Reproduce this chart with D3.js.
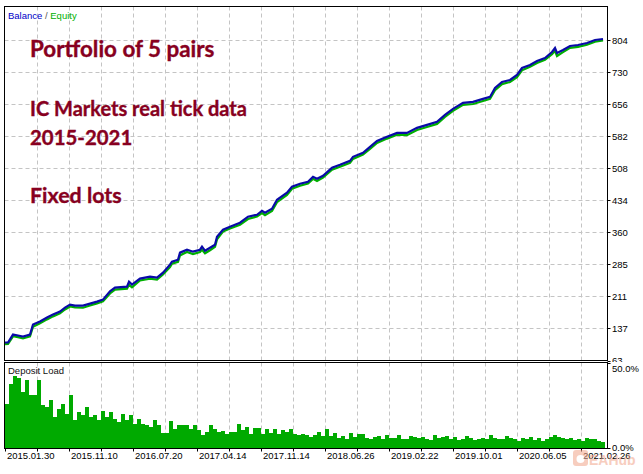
<!DOCTYPE html>
<html><head><meta charset="utf-8">
<script src="https://cdn.jsdelivr.net/npm/d3@7/dist/d3.min.js"></script>
<style>html,body{margin:0;padding:0;background:#fff;}svg{display:block;}</style>
</head><body>
<script>
// ---- data ----
const yTickLabels = [63,137,211,285,360,434,508,582,656,730,804];
const dateLabels = ["2015.01.30","2015.11.10","2016.07.20","2017.04.14","2017.11.14","2018.06.26","2019.02.22","2019.10.01","2020.06.05","2021.02.26"];
const titleLines = ["Portfolio of 5 pairs","IC Markets real tick data","2015-2021","Fixed lots"];
// trade index (x) for balance/equity samples
const tradeIdx = [0,3,8,13,18,25,28,35,42,48,55,60,65,70,78,85,92,98,105,110,122,124,127,135,145,152,158,165,167,173,175,182,188,195,197,200,205,210,212,218,225,235,243,252,257,260,267,272,282,287,295,303,308,312,318,327,335,345,348,358,365,372,382,392,402,412,422,432,440,448,458,468,478,485,490,497,505,512,517,525,532,540,547,550,552,558,565,573,582,590,598];
const balance = [104.6,104.6,123,120.7,118.4,123,146.1,153,162.3,169.2,176.1,185.3,192.3,190,190,194.6,199.2,203.8,223,231.5,233.8,245.4,238.4,252.3,256.9,254.6,266.1,284.6,291.5,296.1,312.3,319.2,314.6,319.2,326.2,316.9,323.8,330.8,349.2,365.4,372.3,381.6,395.4,400,409.2,404.6,413.9,434.6,450.8,464.7,471.6,476.2,487.7,483.1,490.1,508.5,515.4,524.7,533.9,543.1,557,570.8,580.1,589.3,589.3,600.9,607.8,614.7,630.9,644.7,658.6,660.9,667.8,672.4,693.2,707,711.6,723.2,739.3,746.3,755.5,762.4,776.3,785.5,774,780.9,790.1,792.4,797.1,804,806.3];
const equity = [101,101.5,119,117,114,119,141,149,158,165,172,181,188,186,185,190,195,200,218,227,229,238,232,248,252,250,262,279,287,291,306,314,309,314,319,311,318,326,343,361,368,377,390,396,404,399,409,429,446,460,467,472,483,478,486,504,511,520,529,539,552,566,576,585,584,596,603,610,626,640,654,656,663,668,688,702,707,718,734,742,751,758,771,779,767,776,786,788,793,800,803];
const depositLoad = [
26.1,37.8,42.4,41.2,32.9,39.8,31.0,31.0,39.8,25.1,
24.1,28.0,18.2,23.1,26.1,20.2,31.0,16.3,21.2,19.2,
24.1,18.2,19.2,16.3,22.0,18.2,21.2,17.3,15.3,20.2,
16.3,19.2,14.3,17.3,14.3,13.3,12.4,16.3,13.3,9.0,
9.0,15.7,11.0,13.3,13.3,13.7,11.4,13.3,10.4,7.5,
9.4,13.7,11.4,9.4,9.8,8.4,9.4,9.4,14.3,10.4,
12.4,8.4,11.8,11.8,8.4,11.4,9.0,11.0,8.4,10.4,
9.4,11.0,8.4,7.8,8.0,7.5,6.5,7.5,9.4,7.1,
11.4,7.1,9.0,6.1,7.1,5.5,8.6,6.7,8.2,8.4,
6.1,5.1,6.3,7.1,5.1,7.8,6.1,6.1,7.8,5.5,
5.1,7.1,6.5,6.1,6.5,5.1,4.5,7.5,6.1,6.5,
7.1,5.5,6.5,4.5,5.1,7.1,6.1,4.5,5.1,6.1,
5.5,7.8,6.1,5.1,5.5,7.1,6.1,5.1,4.3,6.1,
5.1,6.5,4.5,6.1,3.9,5.5,6.5,7.5,6.5,6.1,
5.5,6.1,4.5,5.1,4.3,6.1,5.5,5.1,4.3,3.5];
const loadTicks = [0,50];
const tradesPerBar = 4;
const totalTrades = 600;
const tradesPerDateTick = 64;
const tradesPerGrid = 32;

// ---- drawing ----
const W = 643, H = 474;
const svg = d3.select("body").append("svg").attr("width", W).attr("height", H);
svg.append("rect").attr("width", W).attr("height", H).attr("fill", "#fff");

const L = 4.5, R = 607.5, mainTop = 6.5, mainBot = 360.5, subTop = 362.5, subBot = 448.5;
const x = d3.scaleLinear().domain([0, totalTrades]).range([5, 605]);
const y = d3.scaleLinear().domain([63, 804]).range([360.5, 40]);
const yd = d3.scaleLinear().domain([0, 50]).range([448, 363]);

const gridTrades = d3.range(tradesPerGrid, totalTrades, tradesPerGrid);
const dateTrades = dateLabels.map((d, i) => i * tradesPerDateTick);

const defs = svg.append("defs");
defs.append("clipPath").attr("id", "mainClip").append("rect").attr("x", 5).attr("y", 7).attr("width", 602).attr("height", 353);
defs.append("clipPath").attr("id", "subClip").append("rect").attr("x", 5).attr("y", 363).attr("width", 602).attr("height", 85);
defs.append("clipPath").attr("id", "lblClip").append("rect").attr("x", 0).attr("y", 0).attr("width", W).attr("height", 362);

const gridColor = "#c4c4c4";
// main grid
const gMain = svg.append("g");
gMain.selectAll("line.v").data(gridTrades).join("line")
  .attr("x1", d => Math.round(x(d)) + 0.5).attr("x2", d => Math.round(x(d)) + 0.5)
  .attr("y1", mainTop).attr("y2", mainBot)
  .attr("stroke", gridColor).attr("stroke-dasharray", "4,3");
gMain.selectAll("line.h").data(yTickLabels.slice(1)).join("line")
  .attr("x1", L).attr("x2", R)
  .attr("y1", d => Math.round(y(d)) + 0.5).attr("y2", d => Math.round(y(d)) + 0.5)
  .attr("stroke", gridColor).attr("stroke-dasharray", "4,3");
// sub grid
svg.append("g").selectAll("line").data(gridTrades).join("line")
  .attr("x1", d => Math.round(x(d)) + 0.5).attr("x2", d => Math.round(x(d)) + 0.5)
  .attr("y1", subTop).attr("y2", subBot)
  .attr("stroke", gridColor).attr("stroke-dasharray", "4,3");

// title text
const titleY = [57, 116, 145, 203];
const titleSize = [22.4, 20, 20.4, 21.4];
svg.append("g").selectAll("text").data(titleLines).join("text")
  .attr("x", 30).attr("y", (d, i) => titleY[i])
  .attr("font-family", "Lato, 'Open Sans', sans-serif").attr("font-weight", "bold")
  .attr("font-size", (d, i) => titleSize[i]).attr("fill", "#870020")
  .attr("stroke", "#870020").attr("stroke-width", 0.35).text(d => d);

// lines
const pts = (arr) => arr.map((v, i) => [tradeIdx[i], v]);
const line = d3.line().x(d => x(d[0])).y(d => y(d[1]));
const gL = svg.append("g").attr("clip-path", "url(#mainClip)");
gL.append("path").attr("d", line(pts(equity))).attr("fill", "none")
  .attr("stroke", "#00b000").attr("stroke-width", 2.2).attr("stroke-linejoin", "miter");
gL.append("path").attr("d", line(pts(balance))).attr("fill", "none")
  .attr("stroke", "#0a0aa8").attr("stroke-width", 2.2).attr("stroke-linejoin", "miter");

// deposit load bars
svg.append("g").attr("clip-path", "url(#subClip)").selectAll("rect").data(depositLoad).join("rect")
  .attr("x", (d, i) => x(i * tradesPerBar))
  .attr("width", (d, i) => x((i + 1) * tradesPerBar) - x(i * tradesPerBar))
  .attr("y", d => yd(d)).attr("height", d => yd(0) - yd(d))
  .attr("fill", "#00aa00").attr("shape-rendering", "crispEdges");

// panel borders
svg.append("rect").attr("x", L).attr("y", mainTop).attr("width", R - L).attr("height", mainBot - mainTop)
  .attr("fill", "none").attr("stroke", "#000");
svg.append("rect").attr("x", L).attr("y", subTop).attr("width", R - L).attr("height", subBot - subTop)
  .attr("fill", "none").attr("stroke", "#000");

const fontAx = "'Liberation Sans', Arial, sans-serif";
// right y ticks & labels
svg.append("g").selectAll("line").data(yTickLabels).join("line")
  .attr("x1", R).attr("x2", R + 3)
  .attr("y1", d => Math.round(y(d)) + 0.5).attr("y2", d => Math.round(y(d)) + 0.5).attr("stroke", "#000");
svg.append("g").attr("clip-path", "url(#lblClip)").selectAll("text").data(yTickLabels).join("text")
  .attr("x", 612).attr("y", d => y(d) + 3.5)
  .attr("font-family", fontAx).attr("font-size", 9.5).attr("fill", "#000").text(d => d);
// deposit load axis
svg.append("g").selectAll("line").data(loadTicks).join("line")
  .attr("x1", R).attr("x2", R + 3)
  .attr("y1", d => Math.round(yd(d)) + 0.5).attr("y2", d => Math.round(yd(d)) + 0.5).attr("stroke", "#000");
svg.append("g").selectAll("text").data(loadTicks).join("text")
  .attr("x", 612).attr("y", (d, i) => i === 0 ? 451 : 372)
  .attr("font-family", fontAx).attr("font-size", 9.5).attr("fill", "#000").text(d => d.toFixed(1) + "%");

// bottom ticks and date labels
svg.append("g").selectAll("line").data([0].concat(gridTrades)).join("line")
  .attr("x1", d => Math.round(x(d)) + 0.5).attr("x2", d => Math.round(x(d)) + 0.5)
  .attr("y1", subBot).attr("y2", subBot + 3).attr("stroke", "#000");
svg.append("g").selectAll("text").data(dateLabels).join("text")
  .attr("x", (d, i) => x(dateTrades[i]) + 2).attr("y", 459)
  .attr("font-family", fontAx).attr("font-size", 9.5).attr("fill", "#000").text(d => d);

// legends
const leg = svg.append("text").attr("x", 8).attr("y", 19).attr("font-family", fontAx).attr("font-size", 9.5);
leg.append("tspan").attr("fill", "#0000c8").text("Balance");
leg.append("tspan").attr("fill", "#555").text(" / ");
leg.append("tspan").attr("fill", "#00b000").text("Equity");
svg.append("text").attr("x", 8).attr("y", 374).attr("font-family", fontAx).attr("font-size", 9.5)
  .attr("fill", "#111").text("Deposit Load");

// watermark
const wm = svg.append("g").attr("opacity", 0.55);
wm.append("rect").attr("x", 573).attr("y", 450).attr("width", 15).attr("height", 16).attr("rx", 3).attr("fill", "#f2a58a");
wm.append("circle").attr("cx", 580.5).attr("cy", 459).attr("r", 4).attr("fill", "#fff");
wm.append("text").attr("x", 589).attr("y", 465).attr("font-family", "'Liberation Sans', Arial, sans-serif")
  .attr("font-size", 14).attr("font-weight", "bold").attr("fill", "#f2a58a").text("EAHub");
</script>
</body></html>
